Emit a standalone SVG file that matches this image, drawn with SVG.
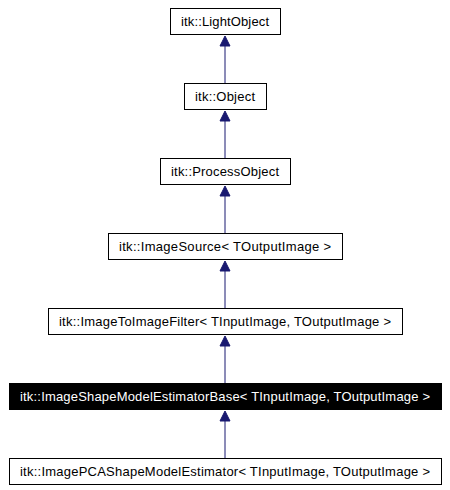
<svg xmlns="http://www.w3.org/2000/svg" width="450" height="490" viewBox="0 0 450 490">
<style>
.box{fill:#ffffff;stroke:#000000;stroke-width:1}
.sel{fill:#000000;stroke:#000000;stroke-width:1}
.lbl{font-family:"Liberation Sans",Arial,sans-serif;font-size:13px;fill:#000000;text-anchor:middle}
.lblw{font-family:"Liberation Sans",Arial,sans-serif;font-size:13px;fill:#ffffff;text-anchor:middle}
.edge{stroke:#191970;stroke-width:1;fill:none}
.head{fill:#191970;stroke:#191970;stroke-width:1}
</style>
<rect width="450" height="490" fill="#ffffff"/>
<g id="connectors">
<line class="edge" x1="225" y1="83" x2="225" y2="46"/>
<polygon class="head" points="225,36 230,46 220,46"/>
<line class="edge" x1="225" y1="158" x2="225" y2="121"/>
<polygon class="head" points="225,111 230,121 220,121"/>
<line class="edge" x1="225" y1="233" x2="225" y2="196"/>
<polygon class="head" points="225,186 230,196 220,196"/>
<line class="edge" x1="225" y1="308" x2="225" y2="271"/>
<polygon class="head" points="225,261 230,271 220,271"/>
<line class="edge" x1="225" y1="383" x2="225" y2="346"/>
<polygon class="head" points="225,336 230,346 220,346"/>
<line class="edge" x1="225" y1="458" x2="225" y2="421"/>
<polygon class="head" points="225,411 230,421 220,421"/>
</g>
<g id="node-lightobject">
<rect class="box" x="170.5" y="8.5" width="110" height="26"/>
<text class="lbl" x="225" y="26" textLength="88" lengthAdjust="spacing">itk::LightObject</text>
</g>
<g id="node-object">
<rect class="box" x="184.5" y="83.5" width="82" height="26"/>
<text class="lbl" x="225" y="101" textLength="60" lengthAdjust="spacing">itk::Object</text>
</g>
<g id="node-processobject">
<rect class="box" x="160.5" y="158.5" width="130" height="26"/>
<text class="lbl" x="225" y="176" textLength="108" lengthAdjust="spacing">itk::ProcessObject</text>
</g>
<g id="node-imagesource">
<rect class="box" x="108.5" y="233.5" width="234" height="26"/>
<text class="lbl" x="225" y="251" textLength="212" lengthAdjust="spacing">itk::ImageSource&lt; TOutputImage &gt;</text>
</g>
<g id="node-imagetoimagefilter">
<rect class="box" x="48.5" y="308.5" width="354" height="26"/>
<text class="lbl" x="225" y="326" textLength="332" lengthAdjust="spacing">itk::ImageToImageFilter&lt; TInputImage, TOutputImage &gt;</text>
</g>
<g id="node-estimatorbase">
<rect class="sel" x="9.5" y="383.5" width="432" height="26"/>
<text class="lblw" x="225" y="401" textLength="410" lengthAdjust="spacing">itk::ImageShapeModelEstimatorBase&lt; TInputImage, TOutputImage &gt;</text>
</g>
<g id="node-pcaestimator">
<rect class="box" x="9.5" y="458.5" width="432" height="26"/>
<text class="lbl" x="225" y="476" textLength="410" lengthAdjust="spacing">itk::ImagePCAShapeModelEstimator&lt; TInputImage, TOutputImage &gt;</text>
</g>
</svg>
